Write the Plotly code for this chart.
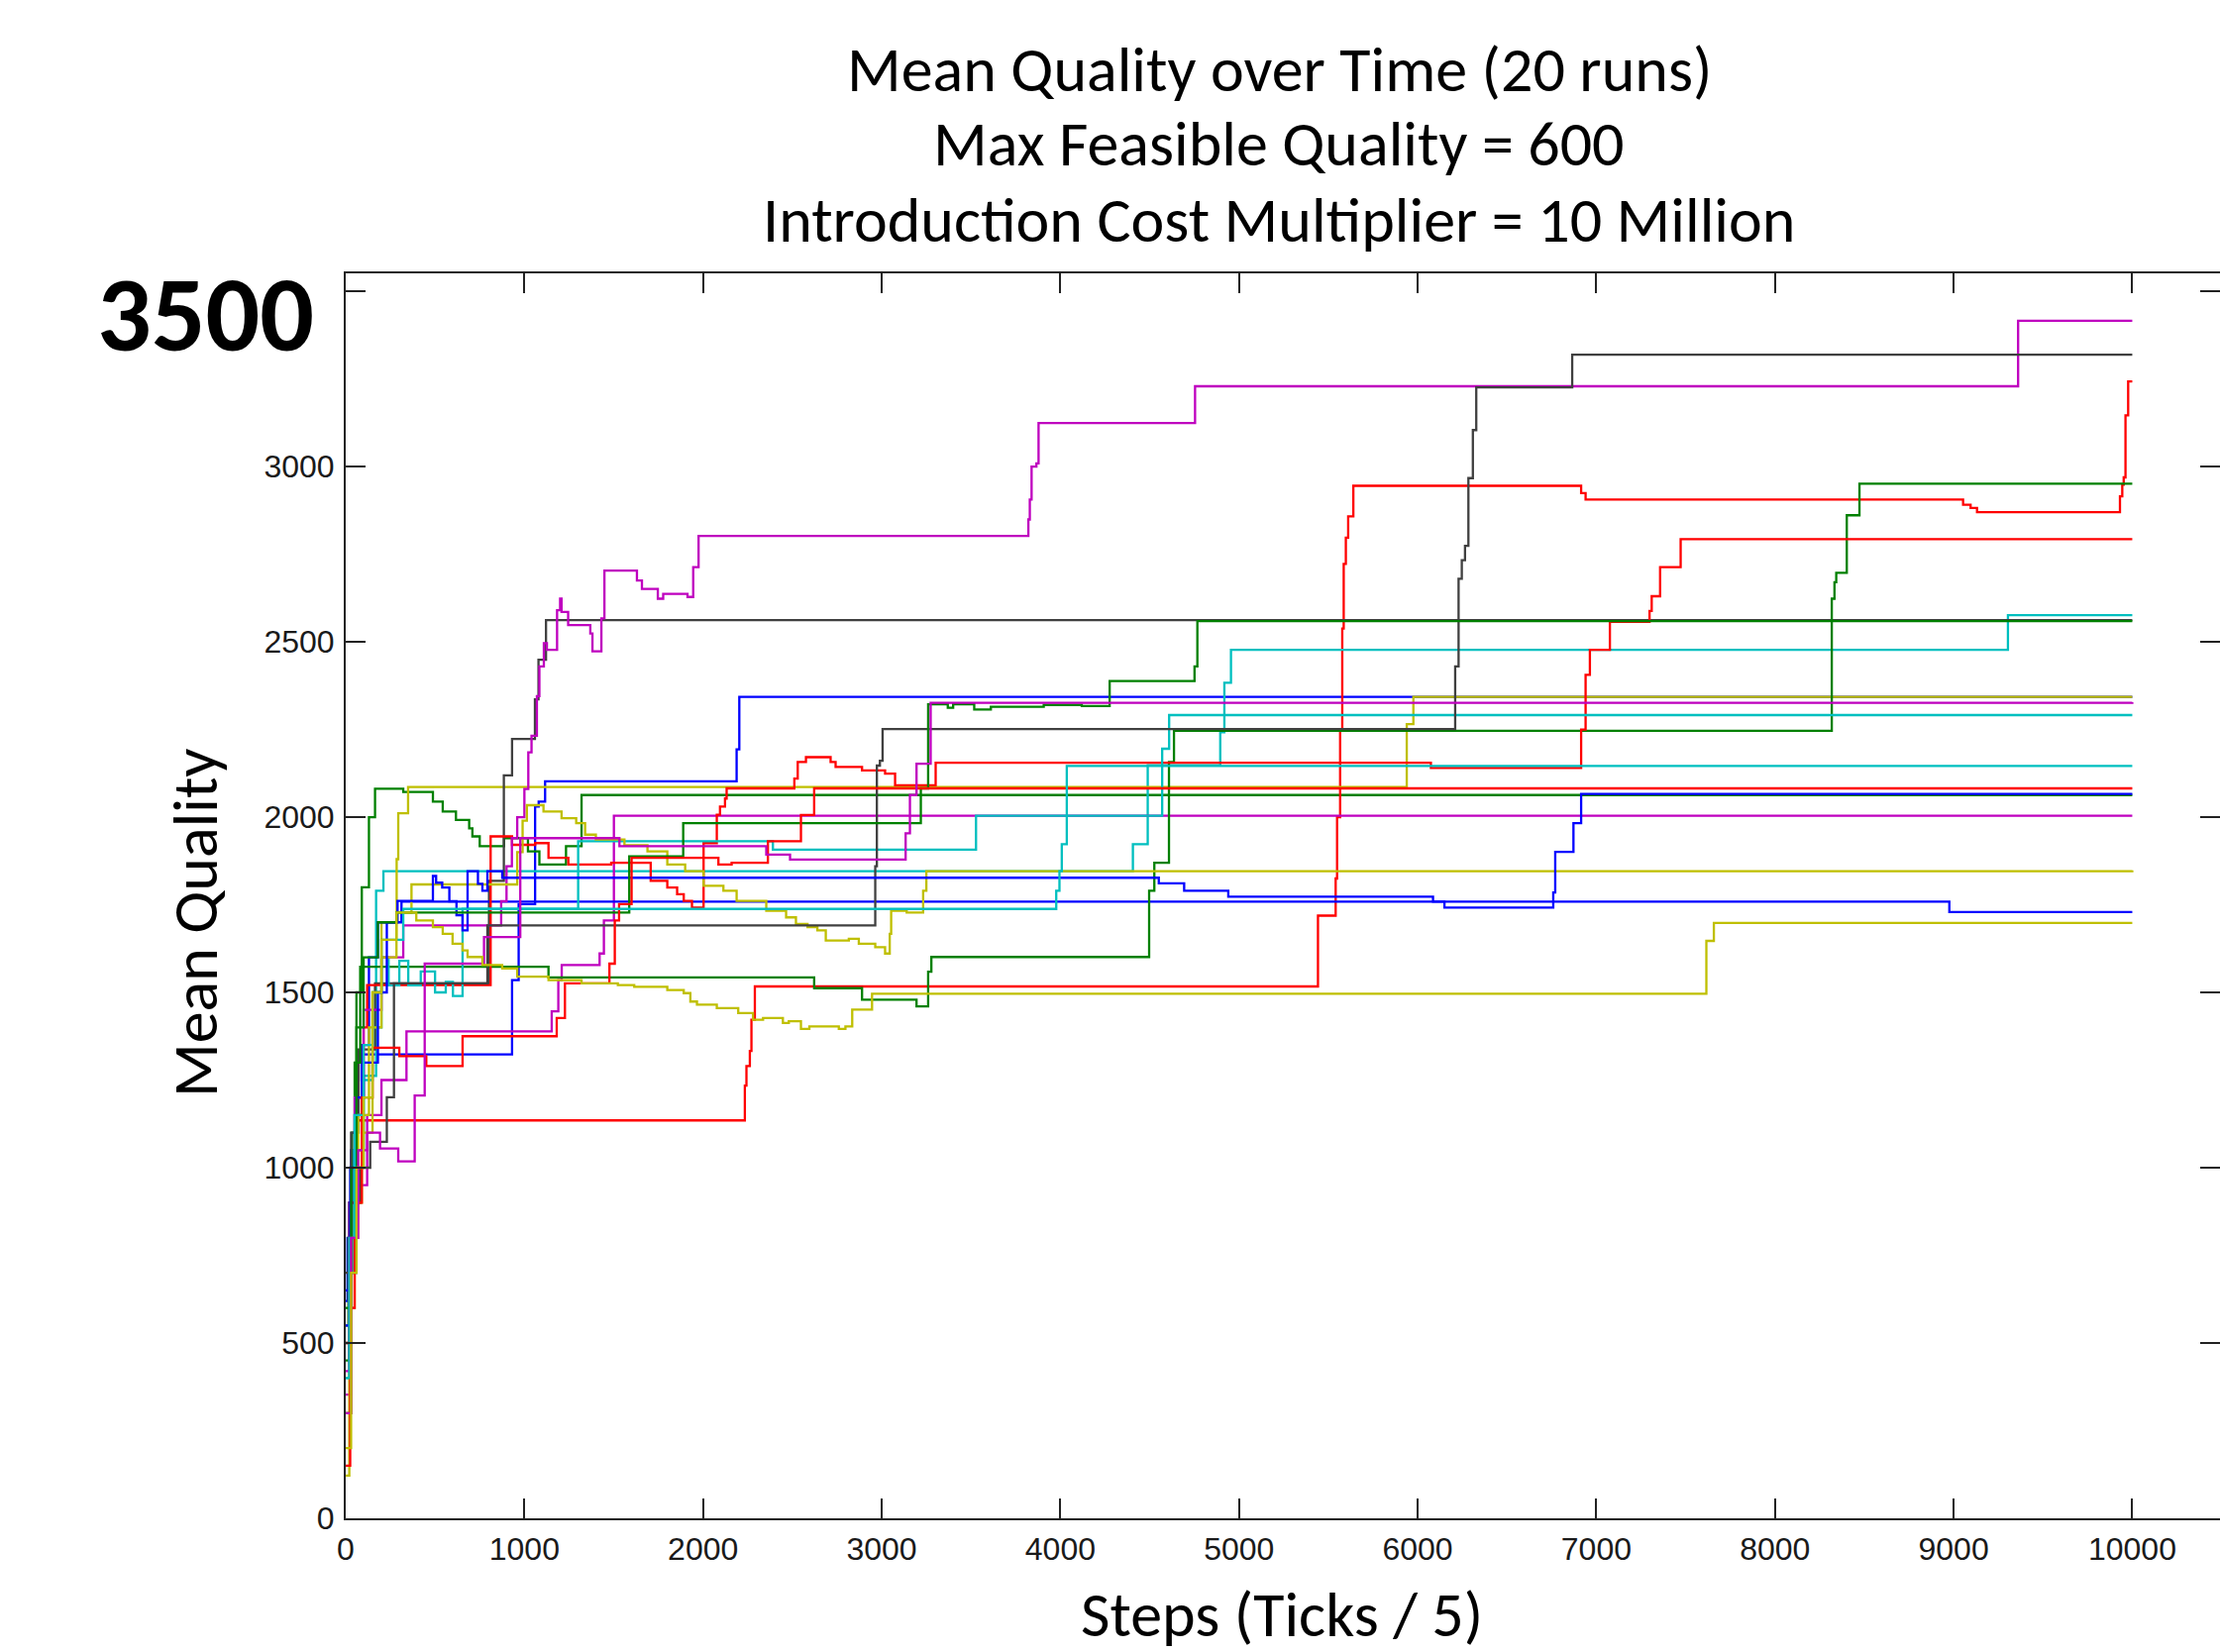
import plotly.graph_objects as go

# ---------------- data: 20 runs (step series) ----------------
run01_x = [0, 10, 30, 60, 72, 931, 968, 1060, 1080, 1116, 2188, 2203, 10000]
run01_y = [620, 800, 1050, 1250, 1323, 1535, 1752, 2030, 2044, 2102, 2193, 2343, 2343]

run02_x = [0, 15, 35, 60, 90, 130, 164, 322, 488, 543, 617, 691, 709, 750, 886, 1020, 1084, 1233, 1320, 10000]
run02_y = [550, 800, 1100, 1500, 1800, 2000, 2081, 2072, 2044, 2016, 1992, 1968, 1945, 1917, 1940, 1902, 1865, 1917, 2063, 2063]

run03_x = [0, 20, 45, 62, 2234, 2243, 2262, 2271, 2290, 5442, 5541, 5549, 5566, 5578, 5586, 5598, 5611, 5640,
           6915, 6940, 9053, 9095, 9131, 9931, 9944, 9952, 9962, 9977, 10000]
run03_y = [500, 800, 1000, 1135, 1234, 1290, 1333, 1422, 1517, 1719, 1825, 2000, 2251, 2538, 2722, 2797, 2858, 2945,
           2924, 2906, 2891, 2882, 2870, 2915, 2948, 2969, 3146, 3243, 3243]

run04_x = [0, 20, 45, 100, 170, 211, 4406, 4489, 4895, 4918, 4955, 9304, 10000]
run04_y = [400, 700, 1050, 1262, 1790, 1846, 1923, 2148, 2242, 2383, 2477, 2576, 2576]

run05_x = [0, 30, 60, 120, 200, 340, 1153, 1190, 1209, 1421, 1445, 1501, 10000]
run05_y = [353, 700, 950, 1150, 1250, 1389, 1446, 1535, 1578, 1611, 1705, 2004, 2004]

run06_x = [0, 20, 50, 90, 150, 200, 285, 294, 349, 5939, 5976, 10000]
run06_y = [122, 600, 900, 1100, 1500, 1700, 1880, 2011, 2086, 2265, 2343, 2343]

run07_x = [0, 30, 72, 164, 802, 885, 931, 1059, 1079, 1121, 10000]
run07_y = [700, 1100, 1337, 1526, 1818, 2119, 2223, 2336, 2449, 2562, 2562]

run08_x = [0, 20, 50, 90, 130, 180, 312, 8976, 10000]
run08_y = [650, 900, 1150, 1350, 1600, 1700, 1759, 1729, 1729]

run09_x = [0, 20, 50, 81, 1135, 2622, 2890, 3195, 3260, 3278, 4497, 4526, 4608, 4636, 8318, 8333, 8343, 8402, 8473, 10000]
run09_y = [450, 900, 1300, 1573, 1543, 1512, 1479, 1460, 1559, 1601, 1790, 1870, 2157, 2246, 2623, 2670, 2697, 2861, 2951, 2951]

run10_x = [0, 30, 60, 100, 120, 811, 931, 1060, 1135, 1246, 1486, 1707, 1800, 1855, 1892, 1938, 2003, 2077, 2095,
           2123, 2132, 2511, 2530, 2576, 2714, 2742, 2890, 3019, 3075, 3302, 6074, 6915, 6940, 6964, 7076, 7298,
           7310, 7357, 7472, 10000]
run10_y = [300, 800, 1200, 1400, 1521, 1945, 1921, 1926, 1884, 1865, 1870, 1818, 1799, 1780, 1761, 1742, 1926, 2007,
           2030, 2053, 2082, 2110, 2157, 2171, 2157, 2143, 2133, 2124, 2091, 2155, 2140, 2250, 2406, 2477, 2557,
           2588, 2630, 2713, 2793, 2793]

run11_x = [0, 30, 60, 100, 150, 200, 240, 300, 350, 420, 500, 560, 600, 654, 1301, 2391, 3528, 4570, 4609, 10000]
run11_y = [300, 700, 1000, 1250, 1400, 1600, 1520, 1590, 1520, 1560, 1500, 1530, 1490, 1738, 1931, 1907, 2004, 2195, 2291, 2291]

run12_x = [0, 20, 50, 100, 200, 322, 870, 900, 930, 960, 1000, 1022, 1040, 1070, 1084, 1109, 1126, 1183, 1200, 1208,
           1245, 1369, 1381, 1431, 1448, 1630, 1658, 1747, 1777, 1913, 1945, 1975, 3821, 3829, 3839, 3866, 3878,
           4754, 9361, 10000]
run12_y = [420, 900, 1200, 1450, 1600, 1691, 1760, 1860, 1940, 2000, 2080, 2185, 2232, 2345, 2430, 2496, 2477, 2590,
           2623, 2585, 2548, 2524, 2473, 2567, 2703, 2675, 2651, 2623, 2637, 2628, 2713, 2802, 2849, 2906, 3000,
           3009, 3124, 3229, 3416, 3416]

run13_x = [0, 30, 70, 130, 200, 284, 368, 960, 990, 1014, 1107, 1208, 1290, 1340, 1400, 1560, 1689, 1800, 1900, 2003,
           2114, 2188, 2354, 2465, 2520, 2585, 2640, 2687, 2816, 2872, 2964, 3019, 3045, 3053, 3140, 3232, 3250, 10000]
run13_y = [300, 800, 1150, 1400, 1600, 1728, 1808, 1900, 1990, 2034, 2016, 1997, 1983, 1950, 1936, 1920, 1902, 1865,
           1846, 1804, 1790, 1761, 1733, 1714, 1695, 1686, 1677, 1648, 1653, 1639, 1629, 1611, 1667, 1733, 1728,
           1790, 1846, 1848]

run14_x = [0, 25, 80, 137, 230, 270, 793, 2964, 2973, 2990, 3005, 6210, 6229, 6247, 6265, 6284, 6309, 6328, 6865, 10000]
run14_y = [500, 900, 1000, 1074, 1201, 1526, 1691, 1860, 2147, 2161, 2251, 2430, 2680, 2733, 2774, 2967, 3104, 3226, 3319, 3319]

run15_x = [0, 25, 60, 100, 180, 230, 290, 488, 506, 540, 580, 620, 654, 682, 740, 765, 793, 876, 4551, 4693, 4940,
           6086, 6150, 6759, 6770, 6872, 6915, 10000]
run15_y = [550, 1000, 1200, 1300, 1500, 1700, 1761, 1832, 1813, 1799, 1760, 1720, 1677, 1846, 1810, 1790, 1846, 1827,
           1811, 1790, 1773, 1759, 1742, 1785, 1901, 1983, 2066, 2066]

run16_x = [0, 30, 60, 100, 180, 284, 1587, 1889, 3219, 3260, 3370, 3400, 3518, 3611, 3907, 4120, 4276, 4751, 4767, 10000]
run16_y = [600, 1000, 1400, 1600, 1700, 1728, 1888, 1983, 2082, 2322, 2312, 2322, 2307, 2315, 2320, 2317, 2388, 2430, 2559, 2559]

run17_x = [0, 25, 50, 90, 150, 300, 451, 654, 1181, 1227, 1476, 1506, 1530, 1600, 2086, 2160, 2363, 2548, 2622, 10000]
run17_y = [150, 600, 900, 1200, 1342, 1318, 1290, 1375, 1427, 1526, 1582, 1705, 1752, 1884, 1865, 1870, 1931, 2006, 2082, 2082]

run18_x = [0, 20, 50, 100, 150, 200, 322, 3977, 3995, 4008, 4036, 10000]
run18_y = [400, 800, 1150, 1350, 1500, 1650, 1738, 1790, 1846, 1923, 2146, 2146]

run19_x = [0, 30, 70, 120, 192, 294, 386, 442, 774, 977, 1532, 2354, 2487, 3134, 3158, 3195, 3274, 10000]
run19_y = [300, 800, 1050, 1100, 1055, 1018, 1206, 1582, 1658, 1940, 1917, 1893, 1879, 1954, 2063, 2152, 2326, 2328]

run20_x = [0, 30, 60, 100, 150, 200, 284, 395, 488, 543, 598, 654, 682, 765, 876, 960, 1135, 1320, 1523, 1615, 1800,
           1892, 1929, 1966, 2077, 2197, 2280, 2336, 2447, 2480, 2548, 2595, 2760, 2797, 2835, 2946, 7616, 7658, 10000]
run20_y = [200, 700, 1000, 1200, 1500, 1650, 1728, 1705, 1686, 1667, 1639, 1620, 1601, 1578, 1568, 1545, 1535, 1526,
           1521, 1516, 1507, 1498, 1474, 1465, 1455, 1441, 1422, 1427, 1413, 1418, 1396, 1403, 1396, 1403, 1451,
           1496, 1647, 1698, 1698]

runs_x = [run01_x, run02_x, run03_x, run04_x, run05_x, run06_x, run07_x, run08_x, run09_x, run10_x,
          run11_x, run12_x, run13_x, run14_x, run15_x, run16_x, run17_x, run18_x, run19_x, run20_x]
runs_y = [run01_y, run02_y, run03_y, run04_y, run05_y, run06_y, run07_y, run08_y, run09_y, run10_y,
          run11_y, run12_y, run13_y, run14_y, run15_y, run16_y, run17_y, run18_y, run19_y, run20_y]

# MATLAB classic colour order (cycled)
color_order = ["#0000ff", "#008000", "#ff0000", "#00bfbf", "#bf00bf", "#bfbf00", "#404040"]

x_tick_vals = [0, 1000, 2000, 3000, 4000, 5000, 6000, 7000, 8000, 9000, 10000]
x_tick_text = ["0", "1000", "2000", "3000", "4000", "5000", "6000", "7000", "8000", "9000", "10000"]
y_tick_vals = [0, 500, 1000, 1500, 2000, 2500, 3000, 3500]
y_tick_text = ["0", "500", "1000", "1500", "2000", "2500", "3000", ""]

title_lines = ["Mean Quality over Time (20 runs)", "Max Feasible Quality = 600",
               "Introduction Cost Multiplier = 10 Million"]
x_title = "Steps (Ticks / 5)"
y_title = "Mean Quality"
big_label = "3500"

# ---------------- figure ----------------
fig = go.Figure()
for i, (xs, ys) in enumerate(zip(runs_x, runs_y)):
    fig.add_trace(go.Scatter(x=xs, y=ys, mode="lines", line_shape="hv",
                             line=dict(color=color_order[i % 7], width=2.3),
                             showlegend=False, hoverinfo="skip"))
# helper trace so the right-hand tick axis is drawn
fig.add_trace(go.Scatter(x=[None], y=[None], yaxis="y2", showlegend=False, hoverinfo="skip"))

W, H = 2241, 1668
L, R, T, B = 349, 0, 276, 135
X_MAX = 10491
Y_MAX = 3551

tick_font = dict(family="Liberation Sans Narrow, Arial Narrow, Liberation Sans, Arial, sans-serif",
                 size=32, color="#1a1a1a")
txt_font = "Carlito, Calibri, Lato, sans-serif"

fig.update_layout(
    width=W, height=H,
    margin=dict(l=L, r=R, t=T, b=B, pad=0),
    paper_bgcolor="white", plot_bgcolor="white",
    showlegend=False,
    xaxis=dict(range=[0, X_MAX], tickvals=x_tick_vals, ticktext=x_tick_text,
               showline=True, linecolor="#222", linewidth=2, mirror="ticks",
               ticks="inside", ticklen=20, tickwidth=2, tickcolor="#222",
               showgrid=False, zeroline=False, tickfont=tick_font, ticklabelstandoff=2),
    yaxis=dict(range=[0, Y_MAX], tickvals=y_tick_vals, ticktext=y_tick_text,
               showline=True, linecolor="#222", linewidth=2, mirror=False,
               ticks="inside", ticklen=20, tickwidth=2, tickcolor="#222",
               showgrid=False, zeroline=False, tickfont=tick_font, ticklabelstandoff=3),
    yaxis2=dict(range=[0, Y_MAX], tickvals=y_tick_vals, overlaying="y", side="right",
                showline=False, ticks="inside", ticklen=20, tickwidth=2, tickcolor="#222",
                showticklabels=False, showgrid=False, zeroline=False),
)

plot_w = W - L - R
plot_h = H - T - B


def px(xpix):
    return (xpix - L) / plot_w


def py(ypix):
    return (H - B - ypix) / plot_h


title_y_pix = [70, 145, 222]
for line, yp in zip(title_lines, title_y_pix):
    fig.add_annotation(text=line, xref="paper", yref="paper", x=px(1291), y=py(yp),
                       xanchor="center", yanchor="middle", showarrow=False,
                       font=dict(family=txt_font, size=64, color="black"))

fig.add_annotation(text=y_title, xref="paper", yref="paper", x=px(197), y=py(932),
                   xanchor="center", yanchor="middle", textangle=-90, showarrow=False,
                   font=dict(family=txt_font, size=64, color="black"))
fig.add_annotation(text=x_title, xref="paper", yref="paper", x=px(1294), y=py(1630),
                   xanchor="center", yanchor="middle", showarrow=False,
                   font=dict(family=txt_font, size=64, color="black"))
fig.add_annotation(text="<b>" + big_label + "</b>", xref="paper", yref="paper", x=px(207), y=py(317),
                   xanchor="center", yanchor="middle", showarrow=False,
                   font=dict(family=txt_font, size=108, color="black"))

fig.write_html("out.html", config={"displayModeBar": False},
               post_script="document.body.style.margin='0';document.body.style.overflow='hidden';")
